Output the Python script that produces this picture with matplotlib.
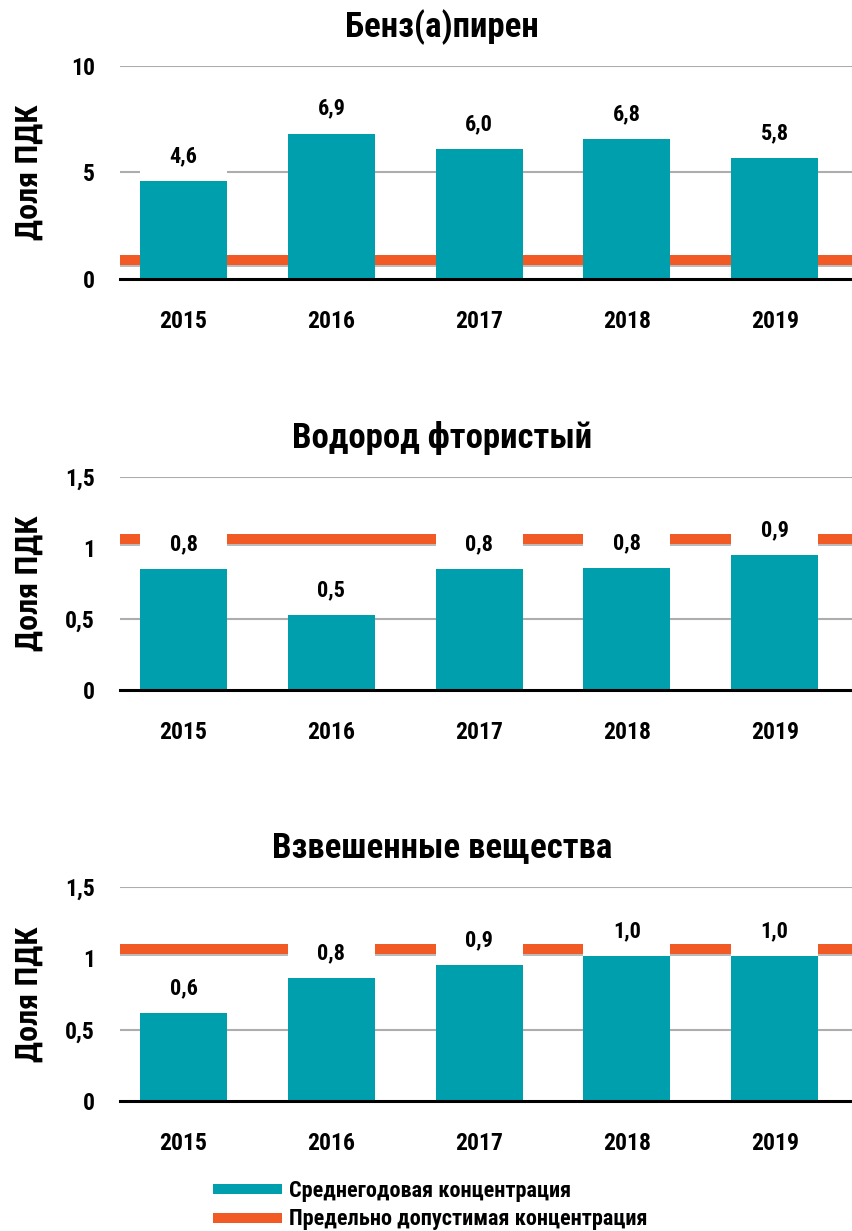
import matplotlib
matplotlib.use("Agg")
import matplotlib.pyplot as plt
import matplotlib.patheffects as pe
from matplotlib.lines import Line2D
from matplotlib.patches import Rectangle
from matplotlib.ticker import FuncFormatter

plt.rcParams['font.family'] = ['Roboto Condensed', 'PT Sans Narrow', 'DejaVu Sans']
plt.rcParams['font.weight'] = 'bold'

# data
years = ["2015", "2016", "2017", "2018", "2019"]

benz_values = [4.6, 6.82, 6.1, 6.57, 5.68]
benz_labels = ["4,6", "6,9", "6,0", "6,8", "5,8"]
benz_pdk = 0.89

hf_values = [0.85, 0.527, 0.85, 0.86, 0.95]
hf_labels = ["0,8", "0,5", "0,8", "0,8", "0,9"]
hf_pdk = 1.065

dust_values = [0.616, 0.86, 0.95, 1.015, 1.015]
dust_labels = ["0,6", "0,8", "0,9", "1,0", "1,0"]
dust_pdk = 1.065

titles = ["Бенз(а)пирен", "Водород фтористый", "Взвешенные вещества"]
ylims = [10, 1.5, 1.5]
yticks = [[0, 5, 10], [0, 0.5, 1, 1.5], [0, 0.5, 1, 1.5]]
legend_labels = ["Среднегодовая концентрация", "Предельно допустимая концентрация"]

TEAL = "#009FAD"
ORANGE = "#F15A24"
W, H = 853, 1231

fig = plt.figure(figsize=(W / 100, H / 100), dpi=100)

# axes positions in pixels: (top, bottom)
ax_px = [(65.7, 279), (476.7, 690), (886.7, 1101)]
title_y = [27, 438, 848]
left_px, right_px = 120, 853


def comma(v, pos):
    s = "%g" % v
    return s.replace(".", ",")


def draw_panel(ax, values, labels, pdk, ymax, ticks):
    x = list(range(len(years)))
    ax.set_xlim(-0.43, 4.53)
    ax.set_ylim(0, ymax)
    # gridlines (the one hidden under the PDK line is skipped)
    for t in ticks[1:]:
        if abs(t - pdk) > 0.1 * ymax:
            ax.axhline(t, color="#ADADAD", lw=1.5, zorder=0.5)
    # PDK line
    ax.axhline(pdk, color=ORANGE, lw=7.2, zorder=1,
               path_effects=[pe.SimpleLineShadow(offset=(0, -1.6), shadow_color="#BBBBBB", alpha=1),
                             pe.Normal()])
    bars = ax.bar(x, values, width=0.59, color=TEAL, zorder=2)
    # white boxes behind labels, then the labels
    box_h = 0.2 * ymax
    for b, lab in zip(bars, labels):
        top = b.get_height()
        ax.add_patch(Rectangle((b.get_x(), top), b.get_width(), box_h,
                               facecolor="white", edgecolor="none", zorder=3))
        ax.annotate(lab, (b.get_x() + b.get_width() / 2, top), xytext=(0, 10),
                    textcoords="offset points", ha="center", va="bottom",
                    fontsize=16, fontweight="bold", zorder=4)
    ax.set_xticks(x)
    ax.set_xticklabels(years)
    ax.set_yticks(ticks)
    ax.yaxis.set_major_formatter(FuncFormatter(comma))
    ax.tick_params(axis="both", length=0, labelsize=17)
    ax.tick_params(axis="y", pad=18)
    ax.tick_params(axis="x", pad=22)
    for s in ["top", "right", "left"]:
        ax.spines[s].set_visible(False)
    ax.spines["bottom"].set_color("black")
    ax.spines["bottom"].set_linewidth(2.2)
    ax.spines["bottom"].set_zorder(5)


data = [(benz_values, benz_labels, benz_pdk),
        (hf_values, hf_labels, hf_pdk),
        (dust_values, dust_labels, dust_pdk)]

for i, (vals, labs, pdk) in enumerate(data):
    top, bot = ax_px[i]
    ax = fig.add_axes([left_px / W, 1 - bot / H, (right_px - left_px) / W, (bot - top) / H])
    draw_panel(ax, vals, labs, pdk, ylims[i], yticks[i])
    fig.text(442 / W, 1 - title_y[i] / H, titles[i], ha="center", va="center",
             fontsize=25, fontweight="bold")
    fig.text(29 / W, 1 - (top + bot) / 2 / H, "Доля ПДК", rotation=90,
             ha="center", va="center", fontsize=23, fontweight="bold")

handles = [Line2D([], [], color=TEAL, lw=7.2, solid_capstyle="butt"),
           Line2D([], [], color=ORANGE, lw=7.2, solid_capstyle="butt")]
fig.legend(handles, legend_labels, loc="center left",
           bbox_to_anchor=(213 / W, 1 - 1205 / H), frameon=False,
           handlelength=3.1, handletextpad=0.3,
           labelspacing=0.3, borderpad=0, borderaxespad=0,
           prop={"weight": "bold", "size": 16})

fig.savefig("out.png", dpi=100)
